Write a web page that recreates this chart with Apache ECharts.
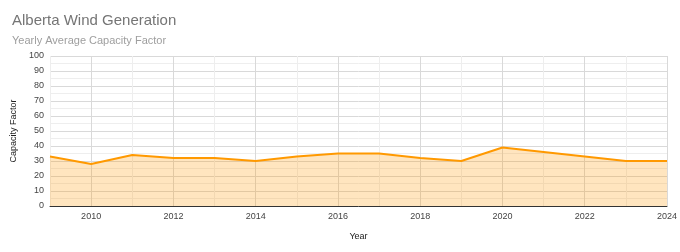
<!DOCTYPE html>
<html><head><meta charset="utf-8">
<script src="https://cdn.jsdelivr.net/npm/echarts@6/dist/echarts.min.js"></script>
<style>html,body{margin:0;padding:0;background:#fff}#c{width:680px;height:252px}</style>
</head><body><div id="c"></div>
<script>
const years = [2009,2010,2011,2012,2013,2014,2015,2016,2017,2018,2019,2020,2021,2022,2023,2024];
const capacityFactor = [33,28,34,32,32,30,33,35,35,32,30,39,36,33,30,30];
const yTicks = [0,10,20,30,40,50,60,70,80,90,100];

const chart = echarts.init(document.getElementById('c'), null, {renderer:'canvas'});
chart.setOption({
  animation:false,
  backgroundColor:'#fff',
  title:{
    text:'Alberta Wind Generation',
    subtext:'Yearly Average Capacity Factor',
    left:7, top:8, itemGap:7,
    textStyle:{fontFamily:'Arial, Liberation Sans',fontSize:15,fontWeight:'normal',color:'#757575'},
    subtextStyle:{fontFamily:'Arial, Liberation Sans',fontSize:11,color:'#9e9e9e'}
  },
  grid:{left:50,right:13,top:56,bottom:46},
  xAxis:{
    type:'value', min:years[0], max:years[years.length-1], interval:1,
    name:'Year', nameLocation:'middle', nameGap:26,
    nameTextStyle:{fontFamily:'Arial, Liberation Sans',fontSize:9,color:'#222'},
    axisLine:{show:true,onZero:false,lineStyle:{color:'#333',width:1}},
    axisTick:{show:false},
    axisLabel:{fontFamily:'Arial, Liberation Sans',fontSize:9,color:'#444',margin:6,
      formatter:v=> (v%2===0 ? String(v) : '')},
    splitLine:{show:true,lineStyle:{color:['#eeeeee','#d9d9d9'],width:1}}
  },
  yAxis:{
    type:'value', min:0, max:100, interval:5,
    name:'Capacity Factor', nameLocation:'middle', nameGap:27, nameRotate:90,
    nameTextStyle:{fontFamily:'Arial, Liberation Sans',fontSize:9,color:'#222'},
    axisLine:{show:false}, axisTick:{show:false},
    axisLabel:{fontFamily:'Arial, Liberation Sans',fontSize:9,color:'#444',margin:6,
      formatter:v=> (yTicks.indexOf(v)>=0 ? String(v) : '')},
    splitLine:{show:true,lineStyle:{color:['#d9d9d9','#eeeeee'],width:1}}
  },
  series:[{
    type:'line',
    data:years.map((y,i)=>[y,capacityFactor[i]]),
    symbol:'none',
    lineStyle:{color:'#ff9900',width:2},
    areaStyle:{color:'rgba(255,153,0,0.36)',origin:'start'}
  }]
});
</script></body></html>
